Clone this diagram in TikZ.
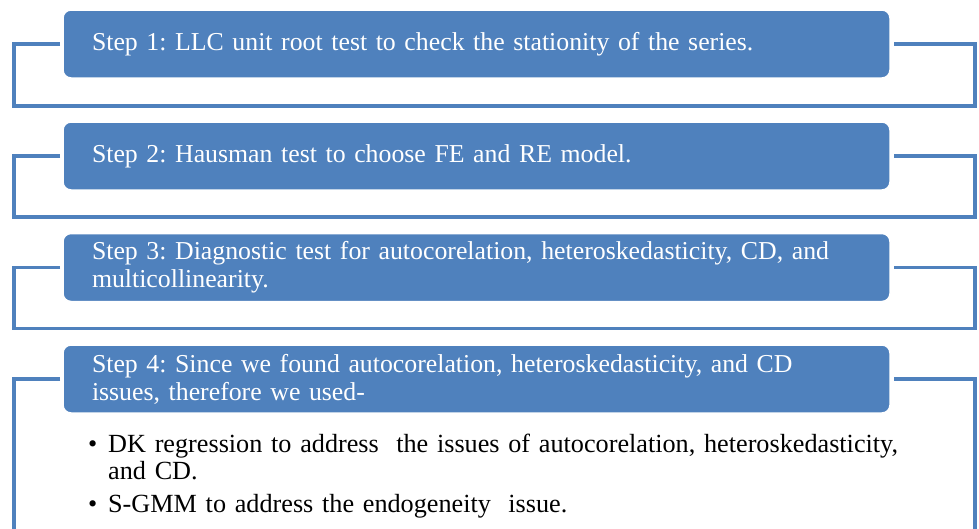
\documentclass[tikz,border=0pt]{standalone}
\usepackage{fontspec}
\setmainfont{Liberation Serif}
\usetikzlibrary{positioning}
\definecolor{stepblue}{RGB}{79,129,189}
\frenchspacing

\begin{document}
\begin{tikzpicture}[
		x=1pt, y=-1pt,
		stepbox/.style={rectangle, rounded corners=8pt, fill=stepblue, draw=white, line width=1.5pt,
			outer sep=0pt, minimum width=827pt, minimum height=68pt, text width=769pt, inner xsep=29pt,
			align=left, text=white, font=\fontsize{25.8}{28}\selectfont},
		frame/.style={draw=stepblue, line width=3.5pt},
		bullettext/.style={anchor=base west, text width=840pt, align=left, inner sep=0pt,
			font=\fontsize{26.2}{27}\selectfont}
		]
	\useasboundingbox (0,0) rectangle (979,528);

	% --- Etapes ---
	\node[stepbox] (S1) at (476.5,44) {Step 1: LLC unit root test to check the stationity of the series.};
	\node[stepbox] (S2) at (476.5,156) {Step 2: Hausman test to choose FE and RE model.};
	\node[stepbox] (S3) at (476.5,267.5) {Step 3: Diagnostic test for autocorelation, heteroskedasticity, CD, and\\multicollinearity.};
	\node[stepbox] (S4) at (476.5,379) {Step 4: Since we found autocorelation, heteroskedasticity, and CD\\issues, therefore we used-};

	% --- Cadres ---
	\draw[frame] ([xshift=-3pt]S1.west) -- ++(-46,0) -- ++(0,62) -- ++(961,0) -- ++(0,-62) -- ([xshift=4pt]S1.east);
	\draw[frame] ([xshift=-3pt]S2.west) -- ++(-46,0) -- ++(0,61) -- ++(961,0) -- ++(0,-61) -- ([xshift=4pt]S2.east);
	\draw[frame] ([xshift=-3pt]S3.west) -- ++(-46,0) -- ++(0,61) -- ++(961,0) -- ++(0,-61) -- ([xshift=4pt]S3.east);
	\draw[frame] ([xshift=-3pt]S4.west) -- ++(-46,0) -- ++(0,150);
	\draw[frame] ([xshift=4pt]S4.east) -- ++(81,0) -- ++(0,150);

	% --- Liste ---
	\node[bullettext] (B1) at (108,452) {\llap{\textbullet\hspace{11pt}}DK regression to address\ \ the issues of autocorelation, heteroskedasticity,\\and CD.};
	\node[bullettext] (B2) at (108,512) {\llap{\textbullet\hspace{11pt}}S-GMM to address the endogeneity\ \ issue.};

\end{tikzpicture}
\end{document}
